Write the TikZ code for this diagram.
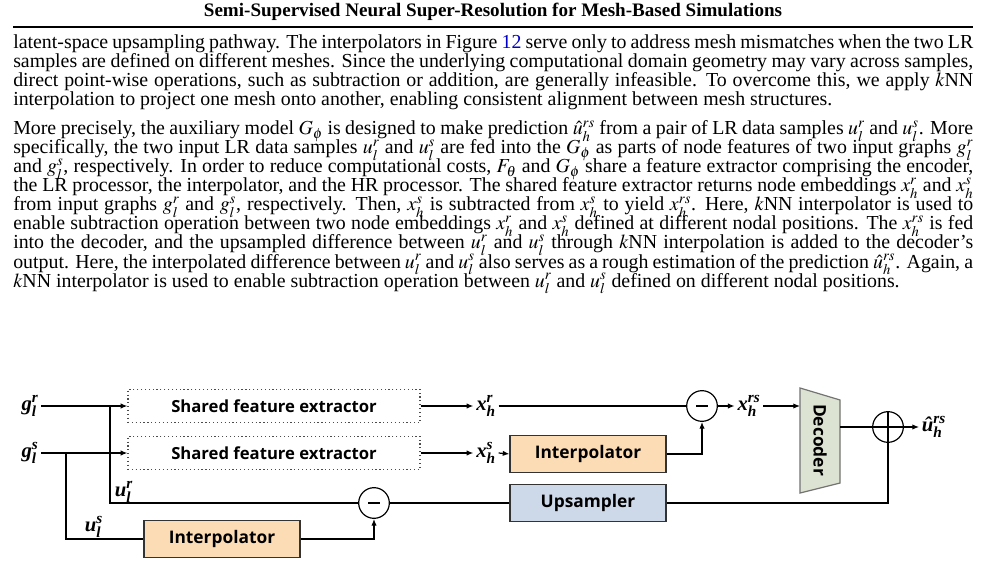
\documentclass[tikz,border=0pt]{standalone}
\usepackage{amsmath}
\usepackage[no-math]{fontspec}
\usepackage{mathptmx}
\setmainfont{Liberation Serif}
\newfontfamily\boxfont{Open Sans}[BoldFont={Open Sans Bold}]
\newfontfamily\labfont{Liberation Serif Bold Italic}
\usetikzlibrary{arrows.meta,shapes.geometric}
\definecolor{refblue}{RGB}{0,0,200}
\definecolor{peach}{RGB}{251,220,181}
\definecolor{lblue}{RGB}{205,216,232}
\definecolor{decfill}{RGB}{221,227,211}
\newcommand{\fl}[2]{\node[anchor=base west,inner sep=0pt] at (13,#1) {\hbox to 720pt{#2}};}
\newcommand{\lastl}[2]{\node[anchor=base west,inner sep=0pt] at (13,#1) {#2};}
\newcommand{\bl}[3]{{\labfont #1}$^{\text{\labfont #3}}_{\text{\labfont #2}}$}
\tikzset{
  box/.style={draw=black!80,line width=0.9pt,minimum width=117pt,minimum height=28pt,inner sep=0pt,font=\boxfont\bfseries\fontsize{13}{15}\selectfont},
  fe/.style={draw=black!70,dotted,line width=0.9pt,minimum width=219pt,minimum height=25pt,inner sep=0pt,font=\boxfont\bfseries\fontsize{12.5}{15}\selectfont},
  op/.style={circle,draw,line width=0.9pt,minimum size=23pt,inner sep=0pt},
  lab/.style={inner sep=2pt,font=\fontsize{15.5}{17}\selectfont},
  w/.style={line width=0.9pt},
  ar/.style={w,-{Latex[length=5pt,width=4pt]}}
}
\begin{document}
\begin{tikzpicture}[x=0.75pt,y=-0.75pt]
\useasboundingbox (0,0) rectangle (987,584);
\fill[white] (0,0) rectangle (987,584);
\node[inner sep=0pt,anchor=base] at (493,17) {\fontsize{14.3}{16}\selectfont\bfseries Semi-Supervised Neural Super-Resolution for Mesh-Based Simulations};
\draw[line width=1pt] (13,27) -- (973,27);
\begingroup
\fontsize{14.9}{17}\selectfont
\fl{49}{latent-space upsampling pathway. The interpolators in Figure \textcolor{refblue}{12} serve only to address mesh mismatches when the two LR}
\fl{68}{samples are defined on different meshes. Since the underlying computational domain geometry may vary across samples,}
\fl{87}{direct point-wise operations, such as subtraction or addition, are generally infeasible. To overcome this, we apply $k$NN}
\lastl{106}{interpolation to project one mesh onto another, enabling consistent alignment between mesh structures.}
\fl{135}{More precisely, the auxiliary model $G_\phi$ is designed to make prediction $\hat u_h^{rs}$ from a pair of LR data samples $u_l^r$ and $u_l^s$. More}
\fl{154}{specifically, the two input LR data samples $u_l^r$ and $u_l^s$ are fed into the $G_\phi$ as parts of node features of two input graphs $g_l^r$}
\fl{173}{and $g_l^s$, respectively. In order to reduce computational costs, $F_\theta$ and $G_\phi$ share a feature extractor comprising the encoder,}
\fl{192}{the LR processor, the interpolator, and the HR processor. The shared feature extractor returns node embeddings $x_h^r$ and $x_h^s$}
\fl{211}{from input graphs $g_l^r$ and $g_l^s$, respectively. Then, $x_h^s$ is subtracted from $x_h^s$ to yield $x_h^{rs}$. Here, $k$NN interpolator is used to}
\fl{230}{enable subtraction operation between two node embeddings $x_h^r$ and $x_h^s$ defined at different nodal positions. The $x_h^{rs}$ is fed}
\fl{249}{into the decoder, and the upsampled difference between $u_l^r$ and $u_l^s$ through $k$NN interpolation is added to the decoder's}
\fl{268}{output. Here, the interpolated difference between $u_l^r$ and $u_l^s$ also serves as a rough estimation of the prediction $\hat u_h^{rs}$. Again, a}
\lastl{287}{$k$NN interpolator is used to enable subtraction operation between $u_l^r$ and $u_l^s$ defined on different nodal positions.}
\endgroup
% diagram
\node[lab] (gr) at (30,406) {\bl{g}{l}{r}};
\node[lab] (gs) at (30,453) {\bl{g}{l}{s}};
\node[fe] (fe1) at (274,406) {Shared feature extractor};
\node[fe] (fe2) at (274,453) {Shared feature extractor};
\node[lab] (xr) at (486,406) {\bl{x}{h}{r}};
\node[lab] (xs) at (486,453) {\bl{x}{h}{s}};
\node[box,fill=peach] (int2) at (588,454) {Interpolator};
\node[box,fill=peach] (int1) at (222,539) {Interpolator};
\node[box,fill=lblue] (ups) at (588,503) {Upsampler};
\node[op] (m2) at (702,406) {};
\draw[w] (m2.center)++(-6,0) -- ++(12,0);
\node[op] (m1) at (374,503) {};
\draw[w] (m1.center)++(-6,0) -- ++(12,0);
\node[op] (p) at (888,427) {};
\draw[w] (p.north) -- (p.south) (p.west) -- (p.east);
\node[lab] (xrs) at (749,406) {\bl{x}{h}{rs}};
\node[lab] (uh) at (934,427) {{\labfont\^u}$^{\text{\labfont rs}}_{\text{\labfont h}}$};
\coordinate (dc) at (820,440);
\draw[draw=black!55,fill=decfill,line width=0.9pt] (800,388) -- (840,400) -- (840,483) -- (800,493) -- cycle;
\node[inner sep=0pt,rotate=-90,font=\boxfont\bfseries\fontsize{13}{15}\selectfont] (dec) at (dc) {Decoder};
\coordinate (dr) at (840,427);
\coordinate (dl) at (800,406);
\node[lab] (ur) at (124,492) {\bl{u}{l}{r}};
\node[lab] (us) at (94,527) {\bl{u}{l}{s}};
% connectors
\draw[ar] (gr.east) -- (fe1.west);
\draw[ar] (gs.east) -- (fe2.west);
\draw[ar] (fe1.east) -- (xr.west);
\draw[ar] (fe2.east) -- (xs.west);
\draw[w] (xr.east) -- (m2.west);
\draw[ar] (xs.east) -- (int2.west);
\draw[ar] (int2.east) -| (m2.south);
\draw[ar] (m2.east) -- (xrs.west);
\draw[ar] (xrs.east) -- (dl);
\draw[w] (dr) -- (p.west);
\draw[ar] (p.east) -- (uh.west);
\draw[w] (110,406) |- (m1.west);
\draw[w] (66,453) |- (int1.west);
\draw[ar] (int1.east) -| (m1.south);
\draw[w] (m1.east) -- (ups.west);
\draw[w] (ups.east) -| (p.south);
\end{tikzpicture}
\end{document}
